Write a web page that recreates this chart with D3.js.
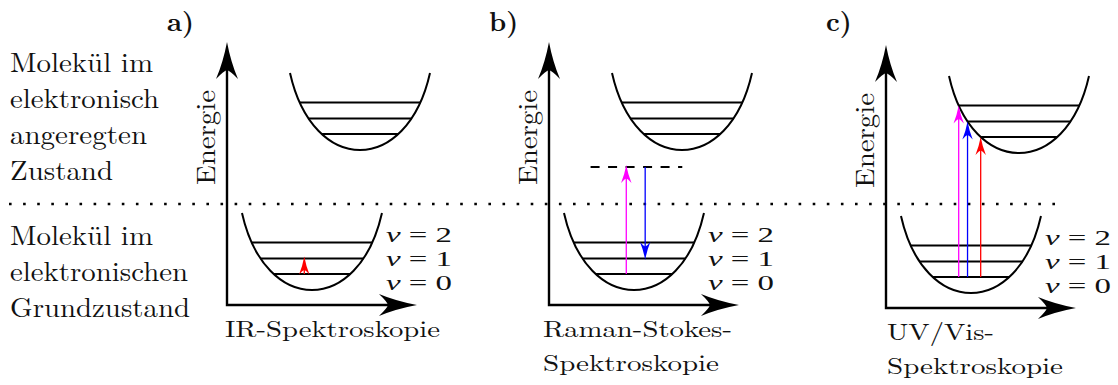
<!DOCTYPE html>
<html><head><meta charset="utf-8">
<script src="https://cdn.jsdelivr.net/npm/d3@7"></script>
<style>body{margin:0;background:#fff}</style>
</head><body><svg id="chart" width="1118" height="385"></svg>
<script>
// ---------------- data ----------------
const panelLabels = ["a)", "b)", "c)"];
const methodLabels = [["IR-Spektroskopie"], ["Raman-Stokes-", "Spektroskopie"], ["UV/Vis-", "Spektroskopie"]];
const axisTitle = "Energie";
const excitedStateLabel = ["Molekül im", "elektronisch", "angeregten", "Zustand"];
const groundStateLabel = ["Molekül im", "elektronischen", "Grundzustand"];
const vibQuantumNumbers = [2, 1, 0];
const vibLevelEnergies = [16, 31.5, 47.5];      // above well minimum, ν = 0,1,2
const groundMinEnergy = 0;
const excitedMinEnergy = 140;
const wellDepth = 77;
const excitedShift = 0.686;                      // displacement of excited well (nuclear coordinate)
const virtualLevelEnergy = 123;
const virtualLevelRange = [-0.62, 0.69];
const separatorEnergy = 86;
const energyAxisRange = [-15, 248];
const coordAxisRange = [-1.214, 1.5];
// transitions per panel: from/to = [state, level]; state g = ground, e = excited, v = virtual
const transitionsA = [{from: ["g", 0], to: ["g", 1], r: -0.11, color: "#ff0000"}];
const transitionsB = [
  {from: ["g", 0], to: ["v", 0], r: -0.11, color: "#ff00ff"},
  {from: ["v", 0], to: ["g", 1], r: 0.16, color: "#0000ff"}
];
const transitionsC = [
  {from: ["g", 0], to: ["e", 2], r: "edge", color: "#ff00ff"},
  {from: ["g", 0], to: ["e", 1], r: "edge", color: "#0000ff"},
  {from: ["g", 0], to: ["e", 0], r: "edge", color: "#ff0000"}
];
const transitions = [transitionsA, transitionsB, transitionsC];
const hasVirtualLevel = [false, true, false];

// ---------------- layout ----------------
const FONT = "Latin Modern Roman";
const NU_FONT = "Liberation Serif";
const layout = {
  axisX: [227, 549, 886], dy: [0, 0, 3], wellHalfWidth: 70,
  methodX: [225, 543, 887], methodBaseline: 337, methodLine: 34,
  fontSize: 27, nuLine: 24, nuTop: 242,
  ctrl: 0.33, ctrlDepth: 102.7
};
const textWidths = {"Molekül im":143, "elektronisch":149, "angeregten":137, "Zustand":103,
  "elektronischen":178, "Grundzustand":180, "IR-Spektroskopie":215, "Raman-Stokes-":189,
  "Spektroskopie":176, "UV/Vis-":107, "Energie":95};

const svg = d3.select("#chart");

function addText(g, s, x, y, opts = {}) {
  const t = g.append("text").attr("x", x).attr("y", y)
    .attr("font-family", opts.family || FONT)
    .attr("font-size", opts.size || layout.fontSize).attr("fill", "#111").text(s);
  const w = opts.width || textWidths[s];
  if (w) t.attr("textLength", w).attr("lengthAdjust", "spacingAndGlyphs");
  if (opts.weight) t.attr("font-weight", opts.weight);
  if (opts.style) t.attr("font-style", opts.style);
  if (opts.anchor) t.attr("text-anchor", opts.anchor);
  if (opts.transform) t.attr("transform", opts.transform);
  return t;
}

// largest size (<= start) whose text box fits a given line pitch
function fitSize(sample, family, start, pitch) {
  let size = start;
  const probe = addText(svg, sample, 0, 100, {size, family});
  while (size > 12 && probe.node().getBBox().height > pitch - 0.5) {
    size -= 0.25;
    probe.attr("font-size", size);
  }
  probe.remove();
  return size;
}

function arrowHead(g, x, y, angle, L, W, N, color) {
  g.append("path")
    .attr("d", `M0,0 Q${-W*0.35},${L*0.55} ${-W},${L} Q${-W*0.3},${L-N*0.9} 0,${L-N} Q${W*0.3},${L-N*0.9} ${W},${L} Q${W*0.35},${L*0.55} 0,0 Z`)
    .attr("fill", color).attr("transform", `translate(${x},${y}) rotate(${angle})`);
}

// half width of well (in nuclear coordinate units) at height h above minimum
function wellHalf(h) {
  const D = wellDepth, d = layout.ctrlDepth, c = layout.ctrl;
  const q = (D - h) / (3 * d);
  const t = (1 - Math.sqrt(Math.max(0, 1 - 4 * q))) / 2;
  const u = 1 - t;
  const x = -u*u*u + (-1 + c) * 3*u*u*t + (1 - c) * 3*u*t*t + t*t*t;
  return -x;
}

const nuSize = fitSize("ν = 2", NU_FONT, 26, layout.nuLine);
const methodSize = fitSize("Spektroskopie", FONT, layout.fontSize, layout.methodLine);

// separator (dotted)
const yBase = d3.scaleLinear().domain([0, 100]).range([290, 190]);
svg.append("line").attr("x1", 9).attr("x2", 1066)
  .attr("y1", yBase(separatorEnergy)).attr("y2", yBase(separatorEnergy))
  .attr("stroke", "#000").attr("stroke-width", 2.6).attr("stroke-dasharray", "2.6 11.5");

// left state labels
excitedStateLabel.forEach((s, i) => addText(svg, s, 10, 72 + i * 36));
groundStateLabel.forEach((s, i) => addText(svg, s, 10, 245 + i * 36));

panelLabels.forEach((lab, p) => {
  const g = svg.append("g");
  const ax = layout.axisX[p], dy = layout.dy[p];
  const y = d3.scaleLinear().domain([0, 100]).range([290 + dy, 190 + dy]);
  const cx = ax - coordAxisRange[0] * layout.wellHalfWidth;
  const x = d3.scaleLinear().domain([0, 1]).range([cx, cx + layout.wellHalfWidth]);

  // panel label
  addText(g, lab, ax - 60, 31, {weight: "bold"});

  // axes
  const xTip = x(coordAxisRange[1]), yTip = y(energyAxisRange[1]), yAx = y(energyAxisRange[0]);
  g.append("path").attr("d", `M${ax},${yTip + 26} L${ax},${yAx} L${xTip - 26},${yAx}`)
    .attr("fill", "none").attr("stroke", "#000").attr("stroke-width", 2.4).attr("stroke-linejoin", "miter");
  arrowHead(g, ax, yTip, 0, 37, 11, 9, "#000");
  arrowHead(g, xTip, yAx, 90, 38, 11, 9, "#000");

  // axis title
  const tx = ax - 12, ty = y(0) - 152.5;
  addText(g, axisTitle, tx, ty, {anchor: "middle", transform: `rotate(-90 ${tx} ${ty})`});

  // wells
  const wells = {g: {min: groundMinEnergy, s: 0}, e: {min: excitedMinEnergy, s: excitedShift}};
  Object.values(wells).forEach(w => {
    const c = layout.ctrl;
    const path = d3.path();
    path.moveTo(x(w.s - 1), y(w.min + wellDepth));
    path.bezierCurveTo(x(w.s - 1 + c), y(w.min + wellDepth - layout.ctrlDepth),
                       x(w.s + 1 - c), y(w.min + wellDepth - layout.ctrlDepth),
                       x(w.s + 1), y(w.min + wellDepth));
    g.append("path").attr("d", path.toString()).attr("fill", "none")
      .attr("stroke", "#000").attr("stroke-width", 2);
    vibLevelEnergies.forEach(h => {
      const hw = wellHalf(h);
      g.append("line").attr("x1", x(w.s - hw)).attr("x2", x(w.s + hw))
        .attr("y1", y(w.min + h)).attr("y2", y(w.min + h))
        .attr("stroke", "#000").attr("stroke-width", 2);
    });
  });

  // virtual level
  if (hasVirtualLevel[p]) {
    g.append("line").attr("x1", x(virtualLevelRange[0])).attr("x2", x(virtualLevelRange[1]))
      .attr("y1", y(virtualLevelEnergy)).attr("y2", y(virtualLevelEnergy))
      .attr("stroke", "#000").attr("stroke-width", 2).attr("stroke-dasharray", "9 8.5");
  }

  // ν labels (italic ν, upright "= n")
  vibQuantumNumbers.forEach((n, i) => {
    const t = g.append("text").attr("x", x(1) + 4).attr("y", layout.nuTop + dy + i * layout.nuLine)
      .attr("font-family", NU_FONT).attr("font-size", nuSize).attr("fill", "#111")
      .attr("textLength", 66).attr("lengthAdjust", "spacingAndGlyphs");
    t.append("tspan").attr("font-style", "italic").text("ν");
    t.append("tspan").text(" = " + n);
  });

  // transitions
  const energyOf = ([st, lv]) => st === "g" ? groundMinEnergy + vibLevelEnergies[lv]
    : st === "e" ? excitedMinEnergy + vibLevelEnergies[lv] : virtualLevelEnergy;
  transitions[p].forEach(tr => {
    const r = tr.r === "edge" ? excitedShift - wellHalf(vibLevelEnergies[tr.to[1]]) : tr.r;
    const y0 = y(energyOf(tr.from)), y1 = y(energyOf(tr.to));
    const up = y1 < y0;
    const tipY = y1 + (tr.r === "edge" ? 0 : (up ? -2 : 1.5));
    g.append("line").attr("x1", x(r)).attr("x2", x(r)).attr("y1", y0)
      .attr("y2", tipY + (up ? 10 : -10))
      .attr("stroke", tr.color).attr("stroke-width", 1.3);
    arrowHead(g, x(r), tipY, up ? 0 : 180, 18, 5.2, 4.5, tr.color);
  });

  // method label
  methodLabels[p].forEach((s, i) => addText(g, s, layout.methodX[p],
    layout.methodBaseline + dy + i * layout.methodLine, {size: methodSize}));
});
</script>
</body></html>
